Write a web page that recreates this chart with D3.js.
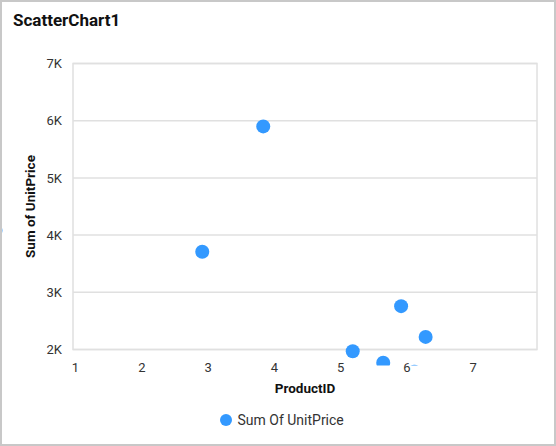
<!DOCTYPE html>
<html>
<head>
<meta charset="utf-8">
<script src="https://cdn.jsdelivr.net/npm/d3@7"></script>
<style>
  body { margin: 0; background: #fff; }
  svg { font-family: Roboto, "Noto Sans", sans-serif; display: block; }
</style>
</head>
<body>
<svg class="scatter-chart" width="556" height="446"></svg>
<script>
// values
const productIds = [3.87, 2.95, 5.95, 6.32, 5.22, 5.68, 6.15, -0.17];
const unitPriceSums = [5900, 3708, 2758, 2220, 1970, 1770, 1610, 4080];
const xTicks = [1, 2, 3, 4, 5, 6, 7];
const yTicks = [2000, 3000, 4000, 5000, 6000, 7000];
const seriesName = "Sum Of UnitPrice";

function drawScatterChart() {
    const svg = d3.select("svg.scatter-chart");
    const W = +svg.attr("width"), H = +svg.attr("height");
    const plot = {left: 73, right: 537, top: 63.5, bottom: 349.5};
    const color = "#3399ff";

    const points = productIds.map((id, i) => ({ id: id, price: unitPriceSums[i] }));

    // card border
    svg.append("rect")
        .attr("x", 1).attr("y", 1)
        .attr("width", W - 2).attr("height", H - 2)
        .attr("fill", "#fff")
        .attr("stroke", "#c8c8c8")
        .attr("stroke-width", 2);

    svg.append("text")
        .attr("x", 13).attr("y", 26)
        .attr("font-size", 17).attr("font-weight", "bold")
        .attr("fill", "#111")
        .text("ScatterChart1");

    const x = d3.scaleLinear().domain([1, 8]).range([plot.left, plot.right]);
    const y = d3.scaleLinear().domain([2000, 7000]).range([plot.bottom, plot.top]);

    // gridlines
    svg.append("g")
        .attr("class", "grid")
        .selectAll("line")
        .data(yTicks)
        .join("line")
        .attr("x1", plot.left).attr("x2", plot.right)
        .attr("y1", d => y(d)).attr("y2", d => y(d))
        .attr("stroke", "#e0e0e0")
        .attr("stroke-width", 1.5);

    svg.append("rect")
        .attr("x", plot.left).attr("y", plot.top)
        .attr("width", plot.right - plot.left)
        .attr("height", plot.bottom - plot.top)
        .attr("fill", "none")
        .attr("stroke", "#e0e0e0")
        .attr("stroke-width", 1.5);

    // axes
    const yAxis = svg.append("g")
        .attr("class", "axis axis--y")
        .attr("transform", `translate(${plot.left}, 0)`)
        .call(d3.axisLeft(y).tickValues(yTicks).tickSize(0).tickPadding(11)
            .tickFormat(d => (d / 1000) + "K"));
    yAxis.select(".domain").remove();
    yAxis.selectAll("text").attr("font-size", 13).attr("fill", "#333")
        .attr("font-family", "Roboto, sans-serif");

    const xAxis = svg.append("g")
        .attr("class", "axis axis--x")
        .attr("transform", `translate(0, ${plot.bottom})`)
        .call(d3.axisBottom(x).tickValues(xTicks).tickSize(0).tickPadding(13)
            .tickFormat(d3.format("d")));
    xAxis.select(".domain").remove();
    xAxis.selectAll("text").attr("font-size", 13).attr("fill", "#333")
        .attr("dx", 2)
        .attr("font-family", "Roboto, sans-serif");

    svg.append("text")
        .attr("transform", `translate(35, ${(plot.top + plot.bottom) / 2}) rotate(-90)`)
        .attr("text-anchor", "middle")
        .attr("font-size", 13.5).attr("font-weight", "bold")
        .attr("fill", "#111")
        .text("Sum of UnitPrice");

    svg.append("text")
        .attr("x", (plot.left + plot.right) / 2).attr("y", 393)
        .attr("text-anchor", "middle")
        .attr("font-size", 13.5).attr("font-weight", "bold")
        .attr("fill", "#111")
        .text("ProductID");

    // series, clipped like the original
    svg.append("clipPath").attr("id", "series-clip")
        .append("rect")
        .attr("x", 2).attr("y", 2)
        .attr("width", W - 4).attr("height", 363.5);

    svg.append("g")
        .attr("clip-path", "url(#series-clip)")
        .selectAll("circle")
        .data(points)
        .join("circle")
        .attr("cx", d => x(d.id))
        .attr("cy", d => y(d.price))
        .attr("r", 7)
        .attr("fill", color);

    // legend
    const legend = svg.append("g").attr("transform", "translate(226, 420)");
    legend.append("circle").attr("r", 6).attr("fill", color);
    legend.append("text")
        .attr("x", 11.5).attr("dy", "0.35em")
        .attr("font-size", 14).attr("fill", "#333")
        .text(seriesName);
}

drawScatterChart();
</script>
</body>
</html>
